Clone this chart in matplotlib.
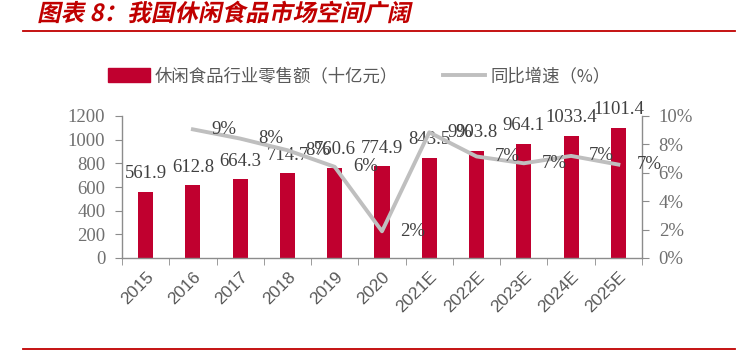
import matplotlib
matplotlib.use("Agg")
import matplotlib.pyplot as plt
import numpy as np
from matplotlib.lines import Line2D
from matplotlib.patheffects import AbstractPathEffect
from matplotlib.transforms import Affine2D

# ------------------------------------------------------------------
# Data
# ------------------------------------------------------------------
years = ["2015", "2016", "2017", "2018", "2019", "2020",
         "2021E", "2022E", "2023E", "2024E", "2025E"]
sales = [561.9, 612.8, 664.3, 714.7, 760.6, 774.9,
         843.5, 903.8, 964.1, 1033.4, 1101.4]
growth = [None, 9.06, 8.41, 7.59, 6.42, 1.88,
          8.85, 7.15, 6.67, 7.19, 6.58]
growth_labels = [None, "9%", "8%", "8%", "6%", "2%",
                 "9%", "7%", "7%", "7%", "7%"]

title = "图表 8：我国休闲食品市场空间广阔"
bar_name = "休闲食品行业零售额（十亿元）"
line_name = "同比增速（%）"

# ------------------------------------------------------------------
# Style
# ------------------------------------------------------------------
RED = "#C0002F"
GREY_LINE = "#BFBFBF"
AXIS = "#8C8C8C"
TICK_TXT = "#707070"
LABEL_TXT = "#404040"
CJK = ["Noto Sans CJK SC", "DejaVu Sans"]
SERIF = ["Liberation Serif", "DejaVu Serif"]


class Slant(AbstractPathEffect):
    """Fake italic: shear glyph outlines (CJK font has no italic face)."""

    def __init__(self, deg=12):
        super().__init__()
        self.deg = deg

    def draw_path(self, renderer, gc, tpath, affine, rgbFace=None):
        renderer.draw_path(gc, tpath, Affine2D().skew_deg(self.deg, 0) + affine, rgbFace)


fig = plt.figure(figsize=(7.39, 3.55), dpi=100)
W, H = 739, 355

ax = fig.add_axes([122 / W, 1 - 258 / H, (642 - 122) / W, (258 - 116) / H])
ax2 = ax.twinx()

x = np.arange(len(years))
ax.bar(x, sales, width=0.32, color=RED, zorder=2)
ax.set_xlim(-0.5, len(years) - 0.5)
ax.set_ylim(0, 1200)
ax.set_yticks(range(0, 1201, 200))

for xi, v in zip(x, sales):
    ax.annotate(f"{v:.1f}", (xi, v), xytext=(0, 7), textcoords="offset points",
                ha="center", va="bottom", fontsize=13.5, family=SERIF,
                color=LABEL_TXT, zorder=5)

gx = [xi for xi, g in zip(x, growth) if g is not None]
gy = [g for g in growth if g is not None]
ax2.plot(gx, gy, color=GREY_LINE, lw=2.8, zorder=3)
ax2.set_ylim(0, 10)
ax2.set_yticks(range(0, 11, 2))
ax2.set_yticklabels([f"{t}%" for t in range(0, 11, 2)])

for xi, g, lab in zip(x, growth, growth_labels):
    if g is None:
        continue
    ax2.annotate(lab, (xi, g), xytext=(22, 0), textcoords="offset points",
                 ha="center", va="center", fontsize=13.5, family=SERIF,
                 color=LABEL_TXT, zorder=5)

# axes cosmetics
for a in (ax, ax2):
    a.spines["top"].set_visible(False)
    for s in ("left", "right", "bottom"):
        a.spines[s].set_color(AXIS)
        a.spines[s].set_linewidth(1.0)
ax.spines["right"].set_visible(False)
ax2.spines["left"].set_visible(False)
ax2.spines["bottom"].set_visible(False)

ax.set_xticks(x)
ax.set_xticklabels(years, rotation=45, ha="right", rotation_mode="anchor",
                   family=["Liberation Sans", "DejaVu Sans"], fontsize=12.5,
                   color="#595959")
ax.set_xticks(np.arange(-0.5, len(years) + 0.5), minor=True)
ax.tick_params(axis="x", which="major", length=0, pad=8)
ax.tick_params(axis="x", which="minor", length=5, color=AXIS, direction="out")
ax.tick_params(axis="y", length=5, color=AXIS, labelsize=13.5,
               labelcolor=TICK_TXT, pad=7)
ax2.tick_params(axis="y", length=5, color=AXIS, labelsize=13.5,
                labelcolor=TICK_TXT, pad=7)
for lab in ax.get_yticklabels() + ax2.get_yticklabels():
    lab.set_family(SERIF)

# legend
handles = [plt.Rectangle((0, 0), 1, 1, color=RED),
           Line2D([0], [0], color=GREY_LINE, lw=2.8)]
fig.legend(handles, [bar_name, line_name], loc="center",
           bbox_to_anchor=(359 / W, 1 - 76 / H), ncol=2, frameon=False,
           prop={"family": CJK, "size": 12.5}, labelcolor="#595959",
           handlelength=2.4, handleheight=0.8, columnspacing=2.6,
           handletextpad=0.3)

# title and rules
fig.text(37 / W, 1 - 14 / H, title, color="#C00000", fontsize=17,
         fontweight="bold", family=CJK, ha="left", va="center",
         path_effects=[Slant(12)])
fig.add_artist(Line2D([23 / W, 735 / W], [1 - 31 / H] * 2, color="#C00000", lw=1.3))
fig.add_artist(Line2D([23 / W, 735 / W], [1 - 349 / H] * 2, color="#C00000", lw=1.3))

fig.savefig("out.png", dpi=100)
